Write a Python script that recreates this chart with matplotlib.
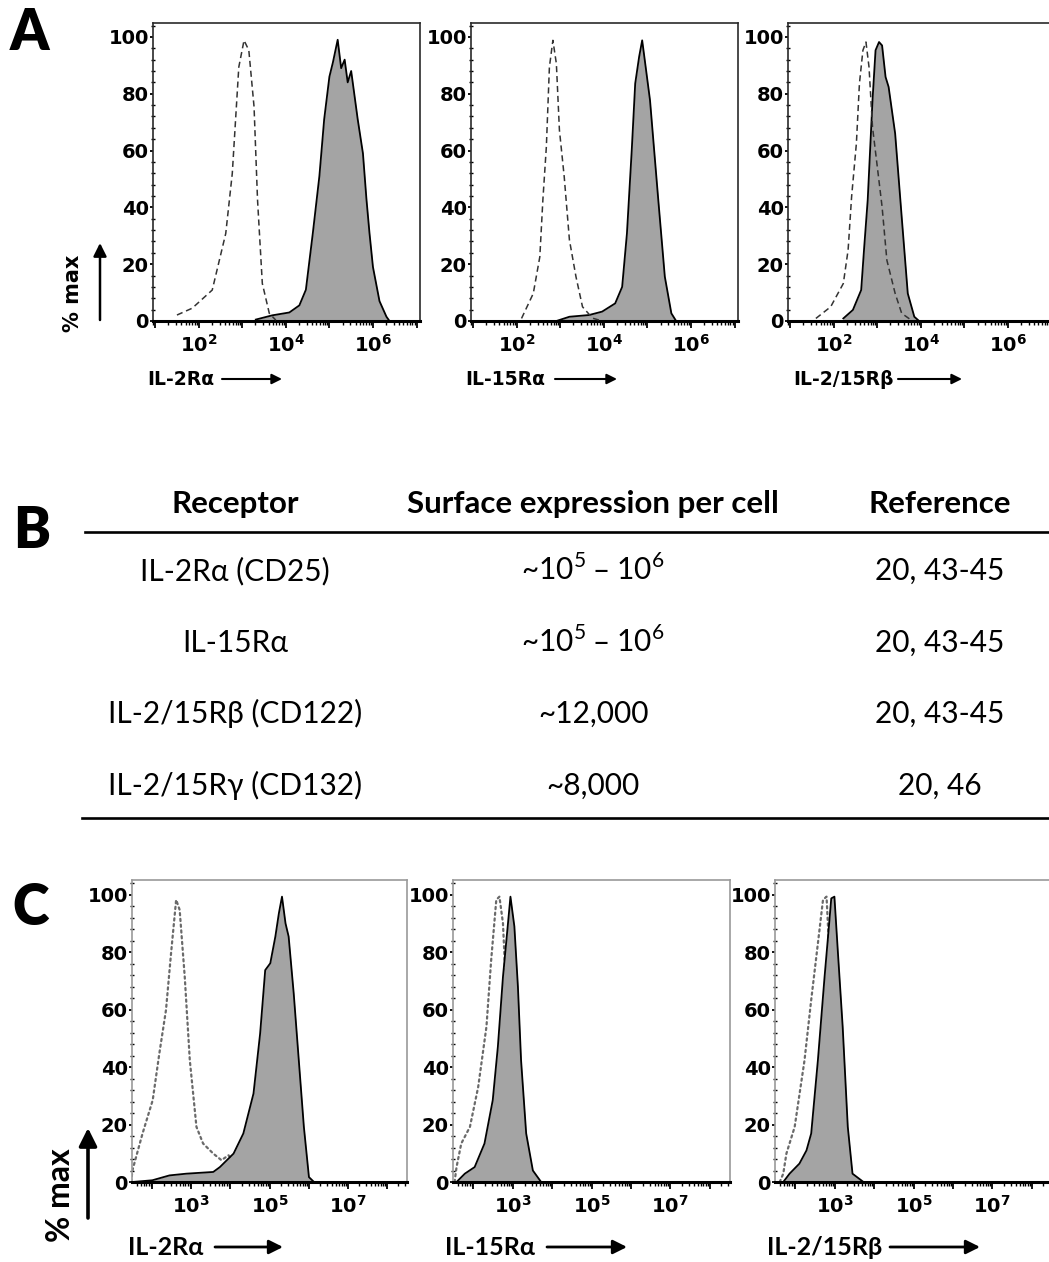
import numpy as np
import matplotlib
matplotlib.use('Agg')
import matplotlib.pyplot as plt
from matplotlib.ticker import FixedLocator, FuncFormatter, MultipleLocator, NullFormatter, LogLocator
from matplotlib.transforms import Affine2D
from matplotlib.patches import FancyArrowPatch
from matplotlib.lines import Line2D

# ---------------- data (log10 fluorescence, % max) ----------------
# Panel A
a1_fill_x = [3.31, 3.69, 4.08, 4.31, 4.46, 4.62, 4.77, 4.88, 5.0, 5.08, 5.19, 5.27, 5.35, 5.42, 5.5, 5.65, 5.77, 5.85, 5.92, 6.0, 6.15, 6.31, 6.38]
a1_fill_y = [0.5, 2, 3, 5.5, 11, 31, 51, 71, 86, 91, 99, 89, 92, 84, 88, 71, 59, 43, 31, 19, 7, 1.5, 0]
a1_ctrl_x = [1.5, 1.85, 2.31, 2.62, 2.77, 2.92, 3.04, 3.15, 3.27, 3.35, 3.46, 3.62, 3.77]
a1_ctrl_y = [2.1, 4.5, 10.9, 30.8, 51.9, 89.4, 98.8, 95.3, 75.4, 42.6, 13.2, 2.7, 0.3]

a2_fill_x = [2.91, 3.21, 3.66, 3.96, 4.26, 4.42, 4.53, 4.64, 4.72, 4.81, 4.88, 4.94, 5.06, 5.25, 5.4, 5.55, 5.66]
a2_fill_y = [0, 1.5, 2.1, 3.3, 6.2, 12, 30.8, 60, 83.6, 93, 98.8, 91.8, 77.7, 42.6, 15.6, 2.7, 0]
a2_ctrl_x = [2.11, 2.38, 2.53, 2.6, 2.68, 2.75, 2.83, 2.91, 2.98, 3.09, 3.21, 3.36, 3.51, 3.74, 3.96]
a2_ctrl_y = [0.9, 9.7, 22.6, 42.6, 61.3, 89.4, 98.8, 90.6, 67.2, 50.8, 28.5, 15.6, 5, 1, 0]

a3_fill_x = [2.22, 2.44, 2.63, 2.7, 2.78, 2.89, 2.96, 3.04, 3.11, 3.19, 3.26, 3.41, 3.56, 3.7, 3.85, 3.96]
a3_fill_y = [0.9, 3.9, 10.9, 26.1, 42.6, 77.7, 95.3, 98.2, 97, 85.9, 82.4, 66, 36.7, 9.7, 1.5, 0]
a3_ctrl_x = [1.59, 1.93, 2.22, 2.33, 2.41, 2.52, 2.59, 2.67, 2.74, 2.81, 2.89, 3.0, 3.11, 3.22, 3.41, 3.56, 3.78]
a3_ctrl_y = [0.9, 5, 13.2, 25, 43.7, 62.5, 83.6, 95.3, 98.2, 89.4, 68.3, 54.3, 40.2, 21.4, 9.7, 2.7, 0.3]

# Panel C
c1_fill_x = [1.49, 2.0, 2.44, 2.87, 3.56, 3.73, 4.08, 4.33, 4.59, 4.76, 4.89, 5.02, 5.15, 5.24, 5.32, 5.41, 5.49, 5.62, 5.75, 5.88, 6.01, 6.14]
c1_fill_y = [0, 0.6, 2.3, 2.9, 3.5, 5.2, 9.9, 16.9, 30.8, 51.7, 73.8, 76.2, 85.5, 93.6, 99.4, 90.1, 85.5, 65.7, 42.4, 19.2, 1.7, 0]
c1_ctrl_x = [1.46, 1.49, 1.75, 2.01, 2.18, 2.35, 2.48, 2.61, 2.7, 2.83, 2.96, 3.13, 3.3, 3.56, 3.77, 3.95, 4.08, 4.2, 4.35]
c1_ctrl_y = [0, 4, 16.9, 28.5, 44.8, 59.9, 79.7, 98.3, 94.8, 71.5, 42.4, 19.2, 13.4, 9.9, 7.6, 9.3, 7.6, 3, 0]

c2_fill_x = [1.57, 1.78, 2.03, 2.28, 2.49, 2.62, 2.75, 2.87, 2.94, 3.04, 3.13, 3.21, 3.34, 3.51, 3.72]
c2_fill_y = [0, 2.9, 5.2, 13.4, 28.5, 47.1, 71.5, 89, 99.4, 89, 68, 42.4, 16.9, 4, 0]
c2_ctrl_x = [1.52, 1.57, 1.69, 1.91, 2.12, 2.33, 2.45, 2.58, 2.66, 2.75, 2.87, 3.04, 3.21, 3.38]
c2_ctrl_y = [0, 5.2, 13.4, 19.2, 33.1, 54.1, 77.3, 98.3, 99.4, 90.1, 54, 19, 3, 0]

c3_fill_x = [1.69, 1.85, 2.1, 2.28, 2.4, 2.57, 2.74, 2.85, 2.91, 2.99, 3.08, 3.2, 3.33, 3.45, 3.7]
c3_fill_y = [0, 2.9, 6.4, 11, 16.9, 42.4, 71.5, 89, 98.8, 99.4, 79.7, 54.1, 19.2, 2.9, 0.3]
c3_ctrl_x = [1.6, 1.69, 1.77, 1.98, 2.23, 2.4, 2.57, 2.7, 2.79, 2.87, 3.04, 3.2, 3.37]
c3_ctrl_y = [0, 2.9, 9.9, 19.2, 42.4, 63.4, 83.1, 98.3, 99.4, 77, 31, 4, 0]

y_ticks = [0, 20, 40, 60, 80, 100]
a_label_decades = [2, 4, 6]
c_label_decades = [3, 5, 7]
a_xlabels = ['IL-2Rα', 'IL-15Rα', 'IL-2/15Rβ']
c_xlabels = ['IL-2Rα', 'IL-15Rα', 'IL-2/15Rβ']

# Panel B table
table_header = ['Receptor', 'Surface expression per cell', 'Reference']
table_receptor = ['IL-2Rα (CD25)', 'IL-15Rα', 'IL-2/15Rβ (CD122)', 'IL-2/15Rγ (CD132)']
table_expression = ['~10$^{\\mathdefault{5}}$ – 10$^{\\mathdefault{6}}$', '~10$^{\\mathdefault{5}}$ – 10$^{\\mathdefault{6}}$', '~12,000', '~8,000']
table_reference = ['20, 43-45', '20, 43-45', '20, 43-45', '20, 46']

# ---------------- figure ----------------
W, H, DPI = 1049, 1262, 100
plt.rcParams['font.family'] = ['DejaVu Sans']
plt.rcParams['font.weight'] = 'bold'
plt.rcParams['mathtext.fontset'] = 'dejavusans'

fig = plt.figure(figsize=(W / DPI, H / DPI), dpi=DPI)
PX = Affine2D().scale(1.0 / W, -1.0 / H).translate(0, 1) + fig.transFigure

FILL = '#a4a4a4'
CAL = ['Lato', 'DejaVu Sans']


def add_ax(l, t, r, b):
    return fig.add_axes([l / W, 1 - b / H, (r - l) / W, (b - t) / H])


def hist_ax(ax, fx, fy, cx, cy, xlim, ymax, label_decs, ctrl_kw, ctrl_top, frame):
    ax.set_xscale('log')
    fxv = 10.0 ** np.array(fx)
    ax.fill_between(fxv, fy, 0, color=FILL, lw=0, zorder=2)
    ax.plot(fxv, fy, color='k', lw=1.3, zorder=3)
    ax.plot(10.0 ** np.array(cx), cy, zorder=4 if ctrl_top else 1, **ctrl_kw)
    ax.set_xlim(10 ** xlim[0], 10 ** xlim[1])
    ax.set_ylim(0, ymax)
    decs = list(range(int(np.ceil(xlim[0])), int(np.floor(xlim[1])) + 1))
    ax.xaxis.set_major_locator(FixedLocator([10.0 ** k for k in decs]))

    def fmt(v, p):
        k = int(round(np.log10(v)))
        return r'$\mathdefault{10^{%d}}$' % k if k in label_decs else ''
    ax.xaxis.set_major_formatter(FuncFormatter(fmt))
    ax.xaxis.set_minor_locator(LogLocator(base=10, subs=np.arange(2, 10), numticks=100))
    ax.xaxis.set_minor_formatter(NullFormatter())
    ax.yaxis.set_major_locator(FixedLocator(y_ticks))
    ax.yaxis.set_minor_locator(MultipleLocator(4))
    ax.tick_params(axis='x', which='major', direction='out', length=5, width=1.3, pad=4, labelsize=14)
    ax.tick_params(axis='x', which='minor', direction='out', length=3, width=1)
    ax.tick_params(axis='y', which='major', direction='out', length=2.2, width=1.3, pad=0.8, labelsize=14)
    ax.tick_params(axis='y', which='minor', direction='inout', length=2.5, width=1)
    for s in ['top', 'right', 'left']:
        ax.spines[s].set_color(frame)
        ax.spines[s].set_linewidth(1.2)
    ax.spines['bottom'].set_color('k')
    ax.spines['bottom'].set_linewidth(2.2)


def arrow(x0, y0, x1, y1, lw=1.6, ms=12):
    fig.add_artist(FancyArrowPatch((x0, y0), (x1, y1), transform=PX,
                                   arrowstyle='-|>,head_length=0.6,head_width=0.3',
                                   mutation_scale=ms, lw=lw, color='k', shrinkA=0, shrinkB=0))


# ---- Panel A ----
a_pos = [(153, 23, 420, 321), (471, 23, 738, 321), (788, 23, 1055, 321)]
a_data = [(a1_fill_x, a1_fill_y, a1_ctrl_x, a1_ctrl_y),
          (a2_fill_x, a2_fill_y, a2_ctrl_x, a2_ctrl_y),
          (a3_fill_x, a3_fill_y, a3_ctrl_x, a3_ctrl_y)]
dash_kw = dict(color='#333333', lw=1.1, ls=(0, (4, 2.5)))
for pos, d in zip(a_pos, a_data):
    ax = add_ax(*pos)
    hist_ax(ax, *d, xlim=(0.95, 7.08), ymax=104.9, label_decs=a_label_decades,
            ctrl_kw=dash_kw, ctrl_top=True, frame='#2a2a2a')

a_lab = [(147, 222, 282), (465, 555, 617), (793, 898, 962)]
for (tx, ax0, ax1), lab in zip(a_lab, a_xlabels):
    fig.text(tx, 385, lab, transform=PX, ha='left', va='baseline', fontsize=13.5, fontweight='bold')
    arrow(ax0, 379, ax1, 379, lw=1.5, ms=10)
fig.text(73, 293, '% max', transform=PX, rotation=90, ha='center', va='center', fontsize=15, fontweight='bold')
arrow(100, 320, 100, 243, lw=1.8, ms=13)

# ---- Panel C ----
c_pos = [(132, 880, 407, 1182), (453, 880, 730, 1182), (775, 880, 1052, 1182)]
c_data = [(c1_fill_x, c1_fill_y, c1_ctrl_x, c1_ctrl_y),
          (c2_fill_x, c2_fill_y, c2_ctrl_x, c2_ctrl_y),
          (c3_fill_x, c3_fill_y, c3_ctrl_x, c3_ctrl_y)]
dot_kw = dict(color='#6a6a6a', lw=1.6, ls=(0, (1, 1.6)), dash_capstyle='round')
for pos, d in zip(c_pos, c_data):
    ax = add_ax(*pos)
    hist_ax(ax, *d, xlim=(1.48, 8.52), ymax=105.2, label_decs=c_label_decades,
            ctrl_kw=dot_kw, ctrl_top=False, frame='#9a9a9a')

c_lab = [(128, 215, 283), (445, 547, 627), (767, 890, 980)]
for (tx, ax0, ax1), lab in zip(c_lab, c_xlabels):
    fig.text(tx, 1255, lab, transform=PX, ha='left', va='baseline', fontsize=18, fontweight='bold', family=CAL)
    arrow(ax0, 1247, ax1, 1247, lw=2.0, ms=14)
fig.text(60, 1195, '% max', transform=PX, rotation=90, ha='center', va='center', fontsize=23, fontweight='bold', family=CAL)
arrow(88, 1218, 88, 1128, lw=2.6, ms=18)

# ---- Panel B table ----
col_x = [235, 593, 940]
for x, h in zip(col_x, table_header):
    fig.text(x, 513, h, transform=PX, ha='center', va='baseline', fontsize=22.5, fontweight='bold', family=CAL)
row_base = [580, 652, 723, 795]
for i, yb in enumerate(row_base):
    for x, col in zip(col_x, [table_receptor, table_expression, table_reference]):
        fig.text(x, yb, col[i], transform=PX, ha='center', va='baseline', fontsize=21.5, fontweight='normal', family=CAL)
fig.add_artist(Line2D([85, 1049], [532, 532], transform=PX, color='k', lw=1.9))
fig.add_artist(Line2D([82, 1049], [818, 818], transform=PX, color='k', lw=1.9))

# ---- panel letters ----
for (x, yb, s) in [(10, 50, 'A'), (13, 548, 'B'), (12, 925, 'C')]:
    fig.text(x, yb, s, transform=PX, ha='left', va='baseline', fontsize=40, fontweight='heavy', family=CAL)

fig.savefig('out.png', dpi=DPI)
